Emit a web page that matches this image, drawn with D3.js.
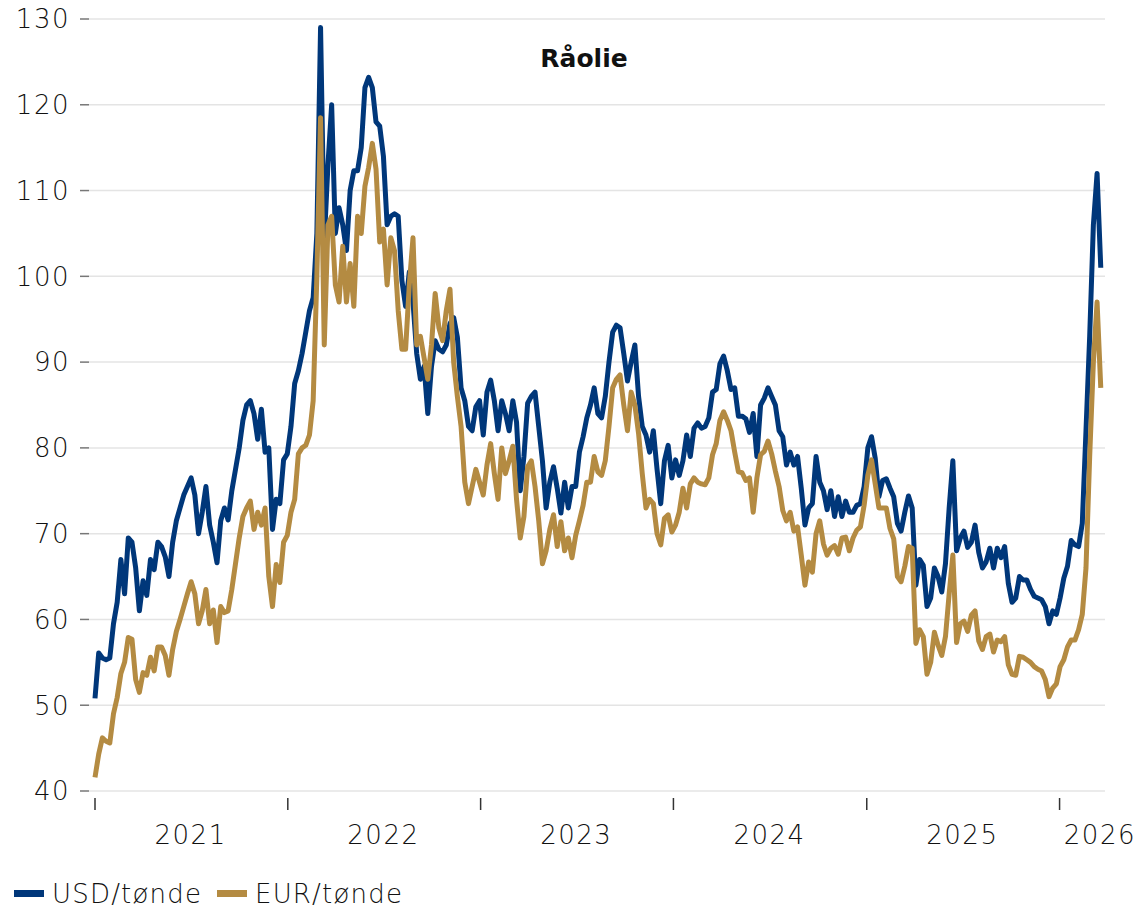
<!DOCTYPE html>
<html>
<head>
<meta charset="utf-8">
<script src="https://cdn.jsdelivr.net/npm/d3@7"></script>
<style>
	body { margin: 0; background: #fff; }
	svg text { font-family: "DejaVu Sans", sans-serif; fill: #111; }
</style>
</head>
<body>
<div id="chart"></div>
<script>
// Data: weekly Brent quotes, first week starting 2021-01-01
const startDate = new Date(2021, 0, 1);
const endDate = new Date(2026, 2, 28);
const years = [2021, 2022, 2023, 2024, 2025, 2026];
const yTicks = [40, 50, 60, 70, 80, 90, 100, 110, 120, 130];
const seriesNames = ['USD/tønde', 'EUR/tønde'];

const usd = [
	50.8, 56.1, 55.5, 55.3, 55.5, 59.5, 62, 67, 63, 69.5,
	69, 66, 61, 64.5, 62.8, 67, 65.8, 69, 68.5, 67.3,
	65, 69, 71.5, 73, 74.5, 75.5, 76.5, 74.5, 70, 72.5,
	75.5, 71, 69, 66.6, 71.5, 73, 71.6, 75, 77.5, 80,
	83.2, 85, 85.5, 84, 81, 84.5, 79.5, 80, 70.5, 74,
	73.5, 78.6, 79.3, 82.5, 87.5, 89, 91, 93.5, 96, 97.5,
	105, 129, 104, 113, 120, 105, 108, 106, 103, 110,
	112.3, 112.3, 115, 122, 123.2, 122, 118, 117.5, 114, 106,
	107, 107.3, 107, 99.5, 96.5, 100.5, 97, 91, 88, 89.5,
	84, 89.5, 92.5, 91.5, 91.2, 92, 94.5, 95.2, 92.9, 87,
	85.5, 82.5, 82, 84.8, 85.5, 81.5, 86.5, 87.9, 85.5, 82,
	85.5, 84, 82, 85.5, 83, 75, 79, 85.2, 86, 86.5,
	82.5, 78.5, 73, 76, 77.8, 75.3, 72.4, 76, 73, 75.5,
	75.5, 79.5, 81.3, 83.5, 85, 87, 84, 83.5, 86, 90,
	93.5, 94.3, 94, 91, 87.8, 90, 92, 86, 82.5, 81.5,
	79.5, 82, 77.5, 73.5, 78.5, 80.3, 76.5, 78.6, 76.8, 78.5,
	81.5, 79, 82.3, 82.9, 82.3, 82.5, 83.5, 86.5, 86.8, 89.8,
	90.7, 89, 86.8, 87, 83.7, 83.7, 83.4, 81.8, 84, 79,
	85, 85.8, 87, 86, 85, 82, 81.3, 78, 79.5, 78,
	79, 75.3, 71, 73, 73.5, 79, 76, 75, 72.8, 75,
	72, 74.3, 72, 73.8, 72.5, 72.5, 73.3, 73.5, 75.5, 80,
	81.3, 78.8, 74.3, 76.2, 76.4, 75.3, 74.3, 71.2, 70.3, 72.5,
	74.4, 73, 64, 67, 66.3, 61.5, 62.5, 66, 65, 63.2,
	66.5, 73, 78.5, 68, 69.5, 70.3, 68.4, 69, 71, 67.8,
	66, 66.7, 68.3, 66, 68.3, 67.2, 68.5, 64.2, 62, 62.5,
	65, 64.6, 64.6, 63.5, 62.7, 62.5, 62.3, 61.5, 59.5, 61,
	60.6, 62.5, 64.8, 66.2, 69.2, 68.7, 68.5, 71.2, 82, 93,
	106, 112, 101
];

const eur = [
	41.6, 44.3, 46.2, 45.8, 45.6, 49, 50.9, 53.7, 55, 57.9,
	57.7, 53, 51.5, 53.8, 53.5, 55.6, 54, 56.8, 56.8, 55.8,
	53.5, 56.5, 58.6, 60, 61.5, 63, 64.4, 63, 59.5, 61,
	63.5, 59.5, 61.1, 57.3, 61.5, 60.8, 61, 63.5, 66.5, 69.5,
	72, 73, 73.8, 70.5, 72.5, 71, 73, 65, 61.5, 66.4,
	64.3, 69, 69.8, 72.5, 74, 79.3, 80, 80.3, 81.5, 85.5,
	100, 118.5, 92, 106, 107, 99, 97, 103.5, 97, 101.5,
	96.5, 107, 105, 110.5, 112.7, 115.5, 112.5, 104, 105.5, 99,
	104.5, 103, 96, 91.5, 91.5, 99, 104.5, 92, 93, 90.5,
	88, 92, 98, 94, 92.5, 96, 98.5, 90, 86, 82.5,
	76, 73.5, 75.5, 77.5, 76, 74.5, 78, 80.5, 77, 74,
	80, 77, 78.5, 80.2, 74, 69.5, 72, 77.8, 78.5, 75.5,
	71.5, 66.5, 68, 70.5, 72.2, 68.5, 71.4, 68, 69.5, 67.2,
	69.8, 71.5, 73.3, 76, 76, 79, 77.2, 76.8, 78.5, 82.5,
	87, 88, 88.5, 85, 82, 86.5, 85, 81.7, 77, 73,
	74, 73.5, 70, 68.7, 71.8, 72.2, 70.2, 71, 72.5, 75.3,
	73, 75.8, 76.5, 76, 75.8, 75.7, 76.5, 79.2, 80.5, 83.2,
	84.2, 83.2, 82, 79.5, 77.2, 77.1, 76.2, 76.5, 72.5, 76.5,
	79.2, 79.6, 80.8, 79.3, 77.3, 75.5, 72.7, 71.5, 72.5, 70.3,
	70.8, 67.5, 64, 66.7, 65.5, 70, 71.5, 68.8, 67.5, 68.3,
	68.6, 67.6, 69.5, 69.6, 68, 69.5, 70.4, 70.8, 73.3, 76.8,
	78.6, 75.8, 73, 73, 73, 70.6, 69.4, 65, 64.4, 66.2,
	68.5, 68.3, 57.2, 58.8, 58, 53.6, 55, 58.5, 57, 55.8,
	58, 63, 67.5, 57.3, 59.5, 59.8, 58.6, 60.5, 61, 57.5,
	56.5, 58, 58.3, 56.2, 57.6, 57.4, 58, 54.7, 53.6, 53.5,
	55.7, 55.6, 55.3, 55, 54.5, 54.2, 54, 53, 51, 52,
	52.5, 54.5, 55.3, 56.8, 57.6, 57.6, 58.8, 60.6, 66, 79,
	90, 97, 87
];

const colors = ['#00377a', '#b48b42'];

// Attribute
const width = 1140;
const height = 910;
const margin = { top: 19, right: 35, bottom: 119, left: 95 };

const dates = usd.map((d, i) => d3.timeDay.offset(startDate, 7 * i));

const svg = d3.select('#chart').append('svg')
	.attr('width', width)
	.attr('height', height)
	.attr('viewBox', [0, 0, width, height]);

const x = d3.scaleTime()
	.domain([startDate, endDate])
	.range([margin.left, width - margin.right]);

const y = d3.scaleLinear()
	.domain([40, 130])
	.range([height - margin.bottom, margin.top]);

// Gridlines and y labels
const yAxis = svg.append('g');
yAxis.selectAll('line.grid')
	.data(yTicks)
	.join('line')
	.attr('class', 'grid')
	.attr('x1', margin.left - 6)
	.attr('x2', width - margin.right)
	.attr('y1', (d) => y(d))
	.attr('y2', (d) => y(d))
	.attr('stroke', '#e4e4e4')
	.attr('stroke-width', 1.5);
yAxis.selectAll('line.tick')
	.data(yTicks)
	.join('line')
	.attr('class', 'tick')
	.attr('x1', margin.left - 15)
	.attr('x2', margin.left - 6)
	.attr('y1', (d) => y(d))
	.attr('y2', (d) => y(d))
	.attr('stroke', '#777')
	.attr('stroke-width', 1.5);
yAxis.selectAll('text')
	.data(yTicks)
	.join('text')
	.attr('x', margin.left - 25)
	.attr('y', (d) => y(d))
	.attr('dy', '0.36em')
	.attr('text-anchor', 'end')
	.attr('font-size', 26)
	.attr('font-weight', 300)
	.attr('letter-spacing', 1.5)
	.text((d) => d);

// X axis: year ticks with labels in mid-year
const xAxis = svg.append('g');
const axisY = height - margin.bottom;
xAxis.selectAll('line')
	.data(years)
	.join('line')
	.attr('x1', (d) => x(new Date(d, 0, 1)))
	.attr('x2', (d) => x(new Date(d, 0, 1)))
	.attr('y1', axisY + 7)
	.attr('y2', axisY + 19)
	.attr('stroke', '#333')
	.attr('stroke-width', 1.5);
xAxis.selectAll('text')
	.data(years)
	.join('text')
	.attr('x', (d) => x(new Date(d, 6, 1)))
	.attr('y', axisY + 53)
	.attr('text-anchor', 'middle')
	.attr('font-size', 26)
	.attr('font-weight', 300)
	.attr('letter-spacing', 1.5)
	.text((d) => d)
	.each(function () {
		// keep the last label inside the picture
		const w = this.getComputedTextLength();
		const cx = +this.getAttribute('x');
		if (cx + w / 2 > width - 4) this.setAttribute('x', width - 4 - w / 2);
	});

// Lines
const line = d3.line()
	.x((d, i) => x(dates[i]))
	.y((d) => y(d));

[usd, eur].forEach((series, i) => {
	svg.append('path')
		.datum(series)
		.attr('fill', 'none')
		.attr('stroke', colors[i])
		.attr('stroke-width', 5)
		.attr('stroke-linejoin', 'round')
		.attr('d', line);
});

// Title
svg.append('text')
	.attr('x', 584)
	.attr('y', 67)
	.attr('text-anchor', 'middle')
	.attr('font-size', 25)
	.attr('font-weight', 'bold')
	.text('Råolie');

// Legend
const legend = svg.append('g').attr('transform', 'translate(14, 893)');
const legendX = [0, 203];
seriesNames.forEach((name, i) => {
	legend.append('rect')
		.attr('x', legendX[i])
		.attr('y', -3)
		.attr('width', 30)
		.attr('height', 7)
		.attr('fill', colors[i]);
	legend.append('text')
		.attr('x', legendX[i] + 38)
		.attr('y', 10)
		.attr('font-size', 26)
		.attr('font-weight', 300)
		.attr('letter-spacing', 1.2)
		.text(name);
});
</script>
</body>
</html>
